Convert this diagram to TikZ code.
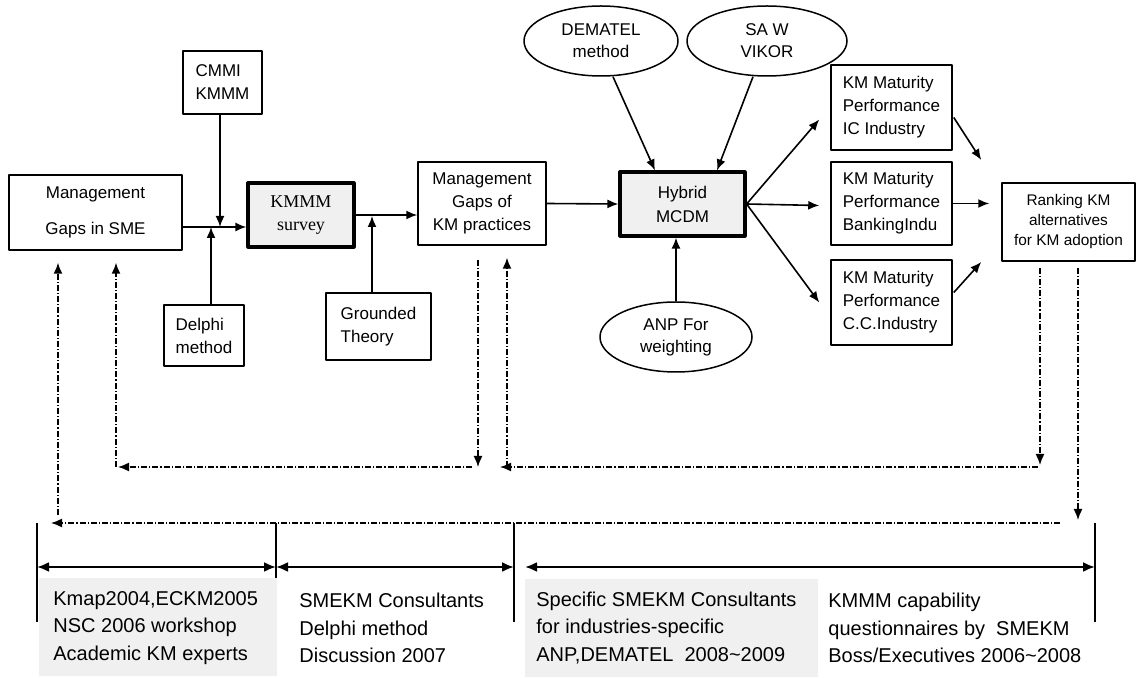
\documentclass[tikz,border=0pt]{standalone}
\usepackage{fontspec}
\setmainfont{Liberation Sans}
\newfontfamily\timesface{Liberation Serif}
\usetikzlibrary{shapes.geometric,arrows.meta}
\begin{document}
\begin{tikzpicture}[x=0.5pt, y=-0.5pt, line join=round, >={Latex[length=5.5pt,width=4.5pt]},
	box/.style={draw, line width=0.75pt, inner sep=2pt, font=\fontsize{8.5}{11.5}\selectfont},
	greybox/.style={box, fill=gray!12, line width=1.6pt, align=center},
	oval/.style={ellipse, draw, line width=0.75pt, inner sep=0pt, align=center, font=\fontsize{8.5}{11}\selectfont},
	link/.style={->, line width=0.8pt},
	dd/.style={->, line width=0.75pt, dash pattern=on 3pt off 1pt on 0.6pt off 1pt},
	span/.style={{Latex[length=6pt,width=5pt]}-{Latex[length=6pt,width=5pt]}, line width=1.1pt},
	note/.style={anchor=west, align=left, inner sep=0pt, font=\fontsize{10}{13.75}\selectfont}]
	\useasboundingbox (0,0) rectangle (1137,678);
	% boxes of the upper chain
	\node[box, align=center, minimum width=86.5pt, minimum height=37.5pt, font=\fontsize{8.5}{18}\selectfont] (sme) at (95.5,212.5) {Management\\Gaps in SME};
	\node[box, align=left, minimum width=39.5pt, minimum height=31.5pt] (cmmi) at (222.5,82.5) {CMMI\\KMMM};
	\node[greybox, minimum width=53pt, minimum height=32pt, font=\timesface\fontsize{9}{11.5}\selectfont] (survey) at (301,215) {KMMM\\survey};
	\node[box, align=left, minimum width=40pt, minimum height=30.5pt] (delphi) at (204,335.5) {Delphi\\method};
	\node[box, align=left, minimum width=52.5pt, minimum height=33.5pt] (grounded) at (378.5,326.5) {Grounded\\Theory};
	\node[box, align=center, minimum width=64pt, minimum height=41.5pt] (kmgap) at (482,203.5) {Management\\Gaps of\\KM practices};
	\node[greybox, minimum width=62.5pt, minimum height=32pt, font=\fontsize{8.5}{12}\selectfont] (hybrid) at (682.5,204) {Hybrid\\MCDM};
	\node[oval, minimum width=77pt, minimum height=35pt] (dematel) at (601,41) {DEMATEL\\method};
	\node[oval, minimum width=80pt, minimum height=35pt] (saw) at (767,41) {SA W\\VIKOR};
	\node[oval, minimum width=76pt, minimum height=35pt] (anp) at (676,337) {ANP For\\weighting};
	\node[box, align=left, minimum width=60.5pt, minimum height=42.5pt] (km1) at (891.5,107.5) {KM Maturity\\Performance\\IC Industry};
	\node[box, align=left, minimum width=60.5pt, minimum height=41.5pt] (km2) at (891.5,203.5) {KM Maturity\\Performance\\BankingIndu};
	\node[box, align=left, minimum width=60.5pt, minimum height=42.5pt] (km3) at (891.5,302.5) {KM Maturity\\Performance\\C.C.Industry};
	\node[box, align=center, minimum width=66.5pt, minimum height=39pt, font=\fontsize{7.7}{10}\selectfont] (rank) at (1068.5,222) {Ranking KM\\alternatives\\for KM adoption};
	% solid connectors
	\coordinate (j) at (220,227);
	\coordinate (k) at (211,227);
	\coordinate (g) at (372,216);
	\draw[link] (sme.east |- j) -- (survey.west |- j);
	\draw[link] (cmmi.south -| j) -- (j);
	\draw[link] (delphi.north -| k) -- (k);
	\draw[link] (survey.east) -- (kmgap.west |- survey.east);
	\draw[link] (grounded.north -| g) -- (g);
	\draw[link] (kmgap.east) -- (hybrid.west);
	\draw[link] ([xshift=6pt]dematel.south) -- ([xshift=-13.75pt]hybrid.north);
	\draw[link] ([xshift=-7pt]saw.south) -- ([xshift=17.25pt]hybrid.north);
	\draw[link] (anp.north) -- (hybrid.south -| anp.north);
	\draw[link] (hybrid.east) -- ([xshift=-5.5pt,yshift=-6pt]km1.west);
	\draw[link] (hybrid.east) -- ([xshift=-5.5pt,yshift=-1pt]km2.west);
	\draw[link] (hybrid.east) -- ([xshift=-5.5pt]km3.west);
	\draw[link] ([xshift=0.5pt,yshift=-5pt]km1.east) -- ([xshift=-10pt,yshift=31pt]rank.west);
	\draw[link] (km2.east) -- ([xshift=-6pt]rank.west |- km2.east);
	\draw[link] ([xshift=0.5pt,yshift=5pt]km3.east) -- ([xshift=-10pt,yshift=-20pt]rank.west);
	% feedback loops
	\coordinate (a1) at (478,467);
	\coordinate (a2) at (116,467);
	\coordinate (b1) at (1040,465);
	\coordinate (b2) at (507,467);
	\coordinate (c1) at (1078,520);
	\coordinate (c2) at (58,523);
	\coordinate (c3) at (1060,523);
	\draw[dd] ([yshift=-7pt]kmgap.south -| a1) -- (a1);
	\draw[dd] ([xshift=-3pt]a1) -- ([xshift=1pt]a2);
	\draw[dd] (a2) -- ([yshift=-6pt]sme.south -| a2);
	\draw[dd] ([yshift=-3pt]rank.south -| b1) -- (b1);
	\draw[dd] ([xshift=-1pt]b1 |- b2) -- ([xshift=-3.5pt]b2);
	\draw[dd] (b2) -- ([yshift=-6pt]kmgap.south -| b2);
	\draw[dd] ([yshift=-3pt]rank.south -| c1) -- (c1);
	\draw[dd] (c3) -- ([xshift=-3.5pt]c2);
	\draw[dd] ([yshift=4pt]c2) -- ([yshift=-6pt]sme.south -| c2);
	% time line
	\fill[gray!12] (39,578) rectangle (277,676);
	\fill[gray!12] (525,579) rectangle (818,677);
	\foreach \x/\b in {37/622, 276/578, 514/622, 1095/622}
	\draw[line width=0.8pt] (\x,523) -- (\x,\b);
	\coordinate (t1) at (37,567);
	\coordinate (t2) at (276,567);
	\coordinate (t3) at (514,567);
	\coordinate (t4) at (525,567);
	\coordinate (t5) at (1095,567);
	\draw[span] (t1) -- (t2);
	\draw[span] (t2) -- (t3);
	\draw[span] (t4) -- (t5);
	\node[note] (n1) at (53,628) {Kmap2004,ECKM2005\\NSC 2006 workshop\\Academic KM experts};
	\node[note] (n2) at (299,628) {SMEKM Consultants\\Delphi method\\Discussion 2007};
	\node[note] (n3) at (536,628) {Specific SMEKM Consultants\\for industries-specific\\ANP,DEMATEL\ \ 2008\textasciitilde 2009};
	\node[note] (n4) at (828,628) {KMMM capability\\questionnaires by\ \ SMEKM\\Boss/Executives 2006\textasciitilde 2008};
\end{tikzpicture}
\end{document}
